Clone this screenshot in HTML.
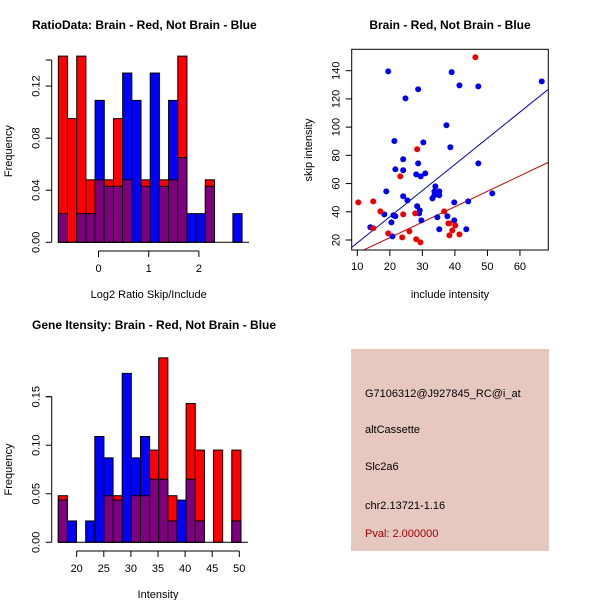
<!DOCTYPE html>
<html><head><meta charset="utf-8"><style>
body{margin:0;background:#fff}
svg{display:block;font-family:"Liberation Sans",sans-serif}
</style></head><body>
<svg id="c" width="600" height="600" viewBox="0 0 600 600">
<rect width="600" height="600" fill="#fff"/>
<g>
<rect x="351" y="349" width="198" height="202" fill="#e6c8c1"/>
<g font-size="11" fill="#000">
<text x="365" y="397">G7106312@J927845_RC@i_at</text>
<text x="365" y="433">altCassette</text>
<text x="365" y="470">Slc2a6</text>
<text x="365" y="509">chr2.13721-1.16</text>
<text x="365" y="537" fill="#a00000">Pval: 2.000000</text>
</g></g>
</svg>
<script>
// Ratio histogram data
const ratioRed  = [0.143,0.095,0.143,0.048,0.048,0.048,0.095,0.048,0,0.048,0,0.048,0.048,0.143,0,0,0.048,0,0,0];
const ratioBlue = [0.022,0,0.022,0.022,0.109,0.043,0.043,0.130,0.109,0.043,0.130,0.043,0.109,0.065,0.022,0.022,0.043,0,0,0.022];
const ratioStart = -0.80, ratioBin = 0.183;
const ratioXTicks = [0,1,2];
const ratioYTicks = [0,0.04,0.08,0.12];
// Intensity histogram data
const intRed  = [0.048,0,0,0,0,0.048,0.048,0,0.048,0.048,0.095,0.190,0.048,0,0.143,0.095,0,0.095,0,0.095];
const intBlue = [0.0435,0.022,0,0.022,0.109,0.087,0.0435,0.174,0.087,0.109,0.065,0.065,0.022,0.0435,0.065,0.022,0,0,0,0.022];
const intStart = 16.6, intBin = 1.685;
const intXTicks = [20,25,30,35,40,45,50];
const intYTicks = [0,0.05,0.10,0.15];
// Scatter data
const blueX = [19.5,28.7,24.8,39,41.4,47.2,66.7,37.4,21.4,30.3,38.6,24.1,28.7,47.2,21.7,24.1,28.1,29.5,30.9,18.9,34,33.7,35.2,35.2,33.7,33.1,24.1,25.4,51.5,44.1,39.8,28.4,29.2,29,18.3,21.1,21.7,34.6,37.7,29.7,39.8,20.5,14,35.2,43.5,20.8];
const blueY = [139.5,126.8,120.4,139,129.6,128.9,132.4,101.3,90.2,89.2,85.7,77.2,74.3,74.3,70.1,69.4,66.5,65.1,67.2,54.5,58,54.5,54.5,51.7,51.7,49.5,51,48.1,53,47.4,46.7,43.9,41,38.9,38.2,37.5,36.8,36.1,36.8,33.9,33.9,32.5,29,27.6,27.6,22.6];
const redX = [46.3,28.4,23.2,10.3,14.9,17.1,24.1,27.8,36.7,14.9,19.5,26,23.8,28.1,29.4,38,40.1,38.3,39.2,41.4,38.3];
const redY = [149.5,84.3,65.1,46.7,47.4,40.3,38.2,38.9,40.3,28.3,24.7,26.1,21.9,20.5,18.3,31.8,30.4,31.8,26.8,24,23.3];
const blueFit = [-0.59,1.854]; // intercept, slope
const redFit = [-0.16,1.094];
const scXTicks = [10,20,30,40,50,60];
const scYTicks = [20,40,60,80,100,120,140];

const svg=document.getElementById('c');
const NS='http://www.w3.org/2000/svg';
function el(tag,attrs,parent){const e=document.createElementNS(NS,tag);for(const k in attrs)e.setAttribute(k,attrs[k]);(parent||svg).appendChild(e);return e;}
function txt(s,attrs,parent){const e=el('text',attrs,parent);e.textContent=s;return e;}

function histogram(name,title,xlab,red,blue,start,bin,xt,yt,fmt,X,Y,yTop,axisY,yAxisX,titleY,xlabY){
  const g=el('g',{});
  
  
  const t=txt(title,{x:32,y:titleY,'font-size':12,'font-weight':'bold'},g);
  
  
  for(let i=0;i<red.length;i++){
    const x0=X(start+i*bin),x1=X(start+(i+1)*bin);
    const r=red[i],b=blue[i];
    if(r<=0&&b<=0)continue;
    const hi=Math.max(r,b),lo=Math.min(r,b);
    const top=el('rect',{x:x0,y:Y(hi),width:x1-x0,height:Y(0)-Y(hi),fill:r>=b?'#ff0000':'#0000ff',stroke:'#000','stroke-width':1},g);
    
    
    if(lo>0){
      const p=el('rect',{x:x0,y:Y(lo),width:x1-x0,height:Y(0)-Y(lo),fill:'#7f007f',stroke:'#000','stroke-width':1},g);
      
      
    }
  }
  el('line',{x1:X(start),x2:X(start+red.length*bin)+7,y1:Y(0),y2:Y(0),stroke:'#000'},g);
  // y axis
  const ya=el('g',{},g);
  
  
  el('line',{x1:yAxisX,x2:yAxisX,y1:Y(0),y2:Y(yTop),stroke:'#000'},ya);
  el('line',{x1:yAxisX-6,x2:yAxisX,y1:Y(yTop),y2:Y(yTop),stroke:'#000'},ya);
  yt.forEach(v=>{
    el('line',{x1:yAxisX-6,x2:yAxisX,y1:Y(v),y2:Y(v),stroke:'#000'},ya);
    txt(fmt(v),{x:0,y:0,'font-size':11,'text-anchor':'middle',transform:`translate(${yAxisX-12},${Y(v)}) rotate(-90)`},ya);
  });
  const yl=txt('Frequency',{'font-size':11,'text-anchor':'middle',transform:`translate(12,${(Y(0)+Y(yTop))/2}) rotate(-90)`},g);
  
  
  const xa=el('g',{},g);
  
  
  el('line',{x1:X(xt[0]),x2:X(xt[xt.length-1]),y1:axisY,y2:axisY,stroke:'#000'},xa);
  xt.forEach(v=>{
    el('line',{x1:X(v),x2:X(v),y1:axisY,y2:axisY+6,stroke:'#000'},xa);
    txt(String(v),{x:X(v),y:axisY+21,'font-size':11,'text-anchor':'middle'},xa);
  });
  const xl=txt(xlab,{x:(X(xt[0])+X(xt[xt.length-1]))/2+ (name==='ratio-histogram'?0:0),y:xlabY,'font-size':11,'text-anchor':'middle'},g);
  
  
}
histogram('ratio-histogram','RatioData: Brain - Red, Not Brain - Blue','Log2 Ratio Skip/Include',ratioRed,ratioBlue,ratioStart,ratioBin,ratioXTicks,ratioYTicks,v=>v.toFixed(2),
  v=>98.5+v*50.2, v=>242.3-v*1302, 0.14, 251, 51.7, 29, 298);
histogram('intensity-histogram','Gene Itensity: Brain - Red, Not Brain - Blue','Intensity',intRed,intBlue,intStart,intBin,intXTicks,intYTicks,v=>v.toFixed(2),
  v=>76.7+(v-20)*5.42, v=>542.3-v*970.7, 0.15, 551, 51.7, 329, 598);

// scatter
const SX=v=>357.3+(v-10)*3.253, SY=v=>240-(v-20)*1.411;
const sg=el('g',{});


const st=txt('Brain - Red, Not Brain - Blue',{x:450,y:29,'font-size':12,'font-weight':'bold','text-anchor':'middle'},sg);


const L=351.7,R=548.3,T=49.3,B=250;
el('clipPath',{id:'clip'},sg).appendChild((()=>{const r=document.createElementNS(NS,'rect');r.setAttribute('x',L);r.setAttribute('y',T);r.setAttribute('width',R-L);r.setAttribute('height',B-T);return r;})());
function fitLine(f,color,nm){
  const x0=(L-357.3)/3.253+10,x1=(R-357.3)/3.253+10;
  const l=el('line',{x1:SX(x0),y1:SY(f[0]+f[1]*x0),x2:SX(x1),y2:SY(f[0]+f[1]*x1),stroke:color,'stroke-width':1,'clip-path':'url(#clip)'},sg);
  
  
}
fitLine(blueFit,'#0000cc','blue-fit-line');
fitLine(redFit,'#cc0000','red-fit-line');
blueX.forEach((x,i)=>{const c=el('circle',{cx:SX(x),cy:SY(blueY[i]),r:3,fill:'#0000ee','clip-path':'url(#clip)'},sg);
  
  });
redX.forEach((x,i)=>{const c=el('circle',{cx:SX(x),cy:SY(redY[i]),r:3,fill:'#ee0000','clip-path':'url(#clip)'},sg);
  
  });
el('rect',{x:L,y:T,width:R-L,height:B-T,fill:'none',stroke:'#000'},sg);
scXTicks.forEach(v=>{el('line',{x1:SX(v),x2:SX(v),y1:B,y2:B+6,stroke:'#000'},sg);
  txt(String(v),{x:SX(v),y:B+20,'font-size':11,'text-anchor':'middle'},sg);});
scYTicks.forEach(v=>{el('line',{x1:L-6,x2:L,y1:SY(v),y2:SY(v),stroke:'#000'},sg);
  txt(String(v),{'font-size':11,'text-anchor':'middle',transform:`translate(${L-12},${SY(v)}) rotate(-90)`},sg);});
const sxl=txt('include intensity',{x:450,y:298,'font-size':11,'text-anchor':'middle'},sg);


const syl=txt('skip intensity',{'font-size':11,'text-anchor':'middle',transform:`translate(312,150) rotate(-90)`},sg);


</script>
</body></html>
